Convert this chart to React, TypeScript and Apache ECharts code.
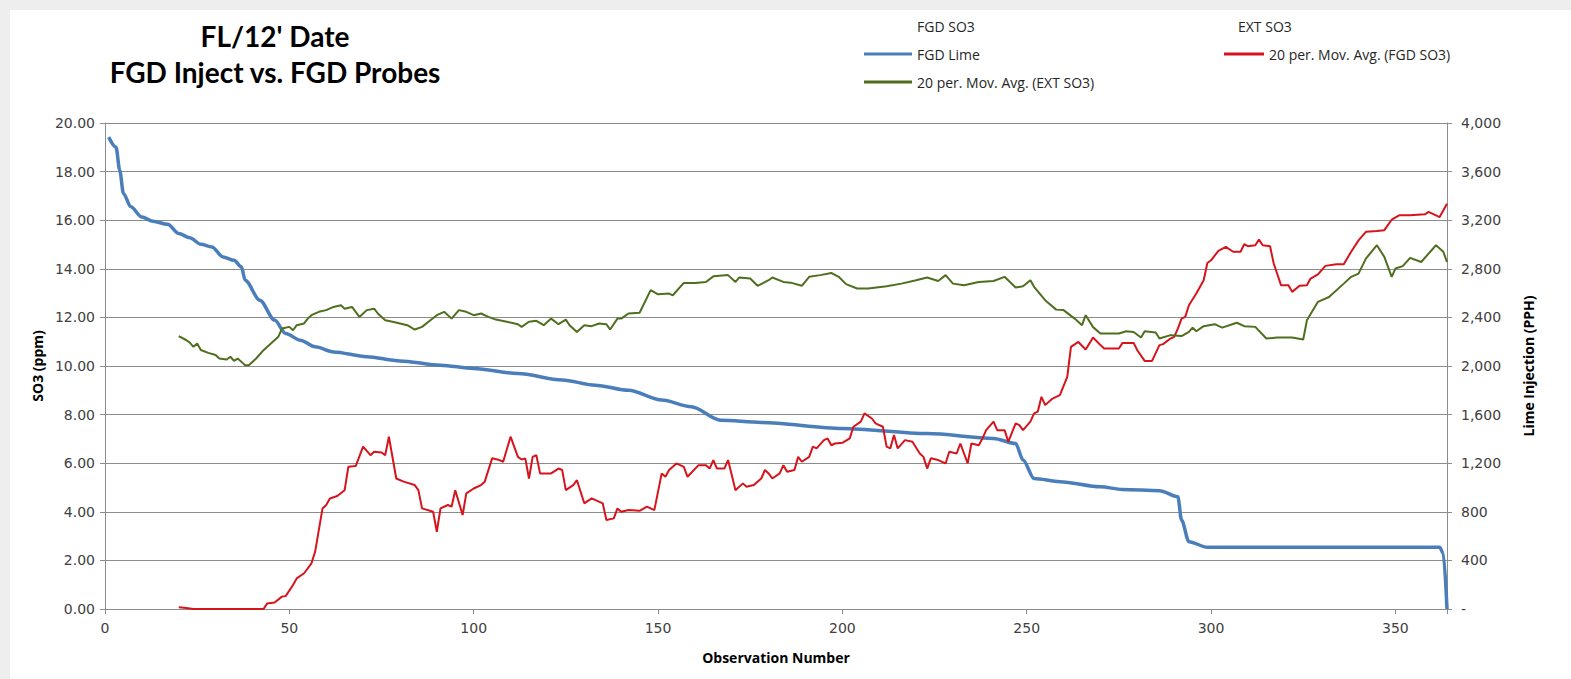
import React, { useEffect, useRef } from "react";
import * as echarts from "echarts";

const titleLines = ["FL/12' Date", "FGD Inject vs. FGD Probes"];
const xTicks = [0, 50, 100, 150, 200, 250, 300, 350];

const limeObs = [1, 3, 4, 5, 7, 10, 13, 17, 20, 23, 26, 29, 32, 35, 37, 38, 42, 46, 49, 53, 57, 62, 71, 80, 91, 100, 112, 124, 133, 142, 151, 159, 167, 178, 200, 223, 241, 247, 249, 252, 259, 270, 276, 286, 291, 292, 294, 299, 362, 363, 364];
const limePPH = [3884, 3800, 3610, 3420, 3310, 3226, 3192, 3166, 3090, 3056, 3002, 2980, 2898, 2870, 2816, 2706, 2542, 2378, 2268, 2212, 2158, 2116, 2076, 2042, 2006, 1980, 1938, 1884, 1842, 1800, 1720, 1664, 1554, 1536, 1486, 1444, 1404, 1362, 1226, 1074, 1048, 1006, 984, 974, 924, 732, 554, 508, 508, 458, 0];

const fgdAvgObs = [20, 22, 24, 43, 44, 46, 48, 49, 51, 52, 54, 56, 57, 59, 60, 61, 63, 65, 66, 68, 70, 72, 73, 75, 76, 77, 79, 81, 84, 85, 86, 89, 90, 91, 93, 94, 95, 97, 98, 100, 102, 103, 105, 107, 108, 110, 112, 113, 114, 115, 116, 117, 118, 121, 123, 124, 125, 127, 128, 130, 132, 135, 136, 138, 139, 140, 142, 145, 147, 149, 151, 152, 153, 155, 157, 158, 161, 163, 164, 165, 166, 168, 169, 170, 171, 173, 174, 176, 178, 179, 180, 181, 183, 184, 185, 187, 188, 189, 191, 192, 193, 195, 196, 197, 198, 200, 202, 203, 205, 206, 208, 209, 211, 212, 213, 214, 215, 217, 219, 221, 222, 223, 224, 226, 228, 229, 231, 232, 233, 234, 235, 237, 238, 239, 241, 242, 244, 245, 247, 248, 249, 251, 252, 253, 254, 255, 257, 259, 261, 262, 264, 266, 268, 270, 271, 275, 276, 279, 280, 282, 284, 286, 287, 289, 290, 291, 292, 293, 294, 296, 298, 299, 300, 302, 304, 306, 308, 309, 310, 312, 313, 314, 316, 317, 319, 321, 322, 324, 326, 327, 329, 331, 334, 336, 338, 340, 342, 345, 347, 349, 351, 354, 358, 359, 362, 364];
const fgdAvgSO3 = [0.07, 0.04, 0, 0, 0.23, 0.27, 0.51, 0.53, 0.99, 1.26, 1.47, 1.88, 2.36, 4.14, 4.28, 4.55, 4.65, 4.89, 5.85, 5.88, 6.68, 6.33, 6.47, 6.44, 6.33, 7.09, 5.37, 5.24, 5.1, 4.89, 4.14, 4.0, 3.18, 4.14, 4.28, 4.21, 4.89, 3.87, 4.76, 4.96, 5.1, 5.24, 6.2, 6.13, 6.06, 7.09, 6.26, 6.15, 6.2, 5.37, 6.26, 6.33, 5.58, 5.58, 5.78, 5.72, 4.89, 5.1, 5.3, 4.35, 4.55, 4.35, 3.66, 3.73, 4.14, 4.0, 4.07, 4.04, 4.21, 4.07, 5.58, 5.44, 5.72, 5.99, 5.85, 5.44, 5.92, 5.92, 5.78, 6.13, 5.78, 5.78, 6.13, 5.51, 4.89, 5.17, 5.03, 5.1, 5.37, 5.72, 5.58, 5.37, 5.58, 5.92, 5.65, 5.72, 6.26, 6.06, 6.26, 6.68, 6.61, 6.95, 7.02, 6.74, 6.81, 6.84, 7.02, 7.5, 7.71, 8.05, 7.84, 7.64, 7.5, 6.68, 6.61, 7.16, 6.61, 6.95, 6.88, 6.4, 6.26, 5.78, 6.2, 6.13, 5.99, 6.47, 6.4, 6.81, 6.4, 5.99, 6.81, 6.74, 7.02, 7.36, 7.71, 7.36, 7.36, 6.88, 7.64, 7.57, 7.36, 7.71, 8.05, 8.12, 8.73, 8.39, 8.66, 8.8, 9.55, 10.79, 10.99, 10.68, 11.17, 10.86, 10.72, 10.72, 10.95, 10.95, 10.65, 10.21, 10.21, 10.86, 10.9, 11.13, 11.2, 11.54, 11.95, 12.02, 12.5, 12.98, 13.53, 14.24, 14.35, 14.74, 14.9, 14.7, 14.7, 15.01, 14.93, 14.97, 15.2, 14.97, 14.93, 14.22, 13.32, 13.32, 13.05, 13.3, 13.32, 13.6, 13.77, 14.12, 14.19, 14.19, 14.7, 15.17, 15.52, 15.56, 15.59, 16.02, 16.2, 16.2, 16.24, 16.34, 16.13, 16.68];

const extAvgObs = [20, 22, 23, 24, 25, 26, 28, 30, 31, 33, 34, 35, 36, 37, 38, 39, 41, 43, 45, 47, 48, 50, 51, 52, 54, 55, 56, 58, 60, 62, 64, 65, 67, 69, 71, 73, 74, 76, 78, 80, 82, 84, 86, 88, 90, 92, 94, 96, 98, 100, 102, 104, 106, 109, 112, 113, 115, 117, 119, 121, 123, 125, 126, 128, 130, 132, 134, 136, 137, 139, 140, 142, 145, 148, 150, 153, 154, 157, 160, 163, 165, 169, 171, 172, 175, 177, 180, 181, 184, 186, 189, 191, 194, 197, 199, 201, 204, 207, 212, 216, 220, 223, 226, 228, 230, 233, 237, 241, 244, 247, 249, 251, 252, 255, 258, 260, 263, 265, 266, 268, 270, 275, 277, 279, 281, 282, 285, 286, 289, 292, 294, 295, 296, 298, 301, 303, 307, 309, 312, 315, 318, 322, 325, 326, 329, 332, 336, 338, 340, 342, 345, 347, 349, 350, 352, 354, 357, 361, 363, 364];
const extAvgSO3 = [11.23, 11.07, 10.96, 10.79, 10.93, 10.66, 10.54, 10.45, 10.31, 10.27, 10.38, 10.21, 10.31, 10.17, 10.03, 10.03, 10.31, 10.65, 10.93, 11.2, 11.54, 11.61, 11.47, 11.68, 11.75, 11.95, 12.09, 12.23, 12.3, 12.43, 12.5, 12.36, 12.43, 12.02, 12.3, 12.36, 12.16, 11.88, 11.82, 11.75, 11.68, 11.5, 11.61, 11.85, 12.09, 12.23, 11.95, 12.3, 12.23, 12.09, 12.16, 12.02, 11.91, 11.82, 11.72, 11.61, 11.82, 11.86, 11.68, 11.95, 11.72, 11.91, 11.68, 11.4, 11.68, 11.64, 11.75, 11.72, 11.5, 11.95, 11.95, 12.16, 12.19, 13.12, 12.95, 12.98, 12.91, 13.42, 13.42, 13.46, 13.69, 13.74, 13.46, 13.64, 13.6, 13.3, 13.53, 13.64, 13.46, 13.43, 13.3, 13.67, 13.74, 13.83, 13.67, 13.37, 13.19, 13.19, 13.28, 13.39, 13.53, 13.64, 13.5, 13.74, 13.39, 13.32, 13.46, 13.5, 13.67, 13.23, 13.28, 13.53, 13.26, 12.71, 12.32, 12.3, 11.95, 11.68, 12.09, 11.6, 11.34, 11.34, 11.43, 11.4, 11.17, 11.43, 11.38, 11.13, 11.27, 11.23, 11.4, 11.58, 11.43, 11.64, 11.72, 11.58, 11.78, 11.64, 11.61, 11.13, 11.17, 11.17, 11.09, 11.88, 12.64, 12.84, 13.39, 13.67, 13.8, 14.42, 14.97, 14.49, 13.67, 14.01, 14.11, 14.45, 14.28, 14.97, 14.7, 14.28];

const pair = (xs: number[], ys: number[]) => xs.map((x, i) => [x, ys[i]]);

const TITLE_FONT = "Lato, 'Open Sans', sans-serif";
const TEXT_FONT = "'Open Sans', 'Noto Sans', sans-serif";
const TICK_FONT = "'DejaVu Sans', Verdana, sans-serif";
const GRID = "#8c8c8c";
const LABEL = "#404040";

export default function App() {
  const ref = useRef<HTMLDivElement>(null);
  useEffect(() => {
    if (!ref.current) return;
    const chart = echarts.init(ref.current, undefined, { renderer: "svg" });
    const legendText = { fontSize: 14, color: "#262626", fontFamily: TEXT_FONT };
    const mkLegend = (name: string, left: number, top: number, w = 46) => ({
      data: [{ name, icon: "rect" }],
      left,
      top,
      itemWidth: w,
      itemHeight: 3,
      itemGap: 0,
      padding: 0,
      textStyle: legendText,
      selectedMode: false,
    });
    const axisName = { fontSize: 14, fontWeight: "bold", color: "#000", fontFamily: TEXT_FONT };
    const tickLabel = { fontSize: 14, color: LABEL, fontFamily: TICK_FONT };
    chart.setOption({
      animation: false,
      backgroundColor: "#ffffff",
      graphic: [
        { type: "rect", left: 0, top: 0, shape: { width: 1571, height: 10 }, style: { fill: "#eeeeee" }, silent: true },
        { type: "rect", left: 0, top: 0, shape: { width: 10, height: 679 }, style: { fill: "#eeeeee" }, silent: true },
      ],
      title: {
        text: titleLines.join("\n"),
        left: 270,
        top: 13,
        textAlign: "center",
        textStyle: { fontSize: 28, fontWeight: "bold", lineHeight: 36, color: "#000", fontFamily: TITLE_FONT },
      },
      legend: [
        mkLegend("FGD SO3", 866, 19),
        mkLegend("EXT SO3", 1187, 19),
        mkLegend("FGD Lime", 864, 47, 48),
        mkLegend("20 per. Mov. Avg. (FGD SO3)", 1224, 47, 40),
        mkLegend("20 per. Mov. Avg. (EXT SO3)", 864, 75, 48),
      ],
      grid: { left: 105, right: 124, top: 123, bottom: 70 },
      xAxis: {
        type: "value",
        min: 0,
        max: 364,
        interval: 50,
        name: "Observation Number",
        nameLocation: "middle",
        nameGap: 41,
        nameTextStyle: axisName,
        axisLine: { show: true, lineStyle: { color: GRID, width: 1 } },
        axisTick: { show: true, length: 5, lineStyle: { color: GRID } },
        splitLine: { show: false },
        axisLabel: {
          ...tickLabel,
          margin: 12,
          formatter: (v: number) => (xTicks.includes(v) ? String(v) : ""),
        },
      },
      yAxis: [
        {
          type: "value",
          min: 0,
          max: 20,
          interval: 2,
          position: "left",
          name: "SO3 (ppm)",
          nameLocation: "middle",
          nameGap: 60,
          nameTextStyle: axisName,
          axisLine: { show: true, lineStyle: { color: GRID, width: 1 } },
          axisTick: { show: true, length: 5, lineStyle: { color: GRID } },
          splitLine: { show: true, lineStyle: { color: GRID, width: 1 } },
          axisLabel: { ...tickLabel, margin: 10, formatter: (v: number) => v.toFixed(2) },
        },
        {
          type: "value",
          min: 0,
          max: 4000,
          interval: 400,
          position: "right",
          name: "Lime Injection (PPH)",
          nameLocation: "middle",
          nameGap: 74,
          nameTextStyle: axisName,
          axisLine: { show: true, lineStyle: { color: GRID, width: 1 } },
          axisTick: { show: true, length: 5, lineStyle: { color: GRID } },
          splitLine: { show: false },
          axisLabel: {
            ...tickLabel,
            margin: 14,
            formatter: (v: number) => (v === 0 ? "-" : v.toLocaleString("en-US")),
          },
        },
      ],
      series: [
        { name: "FGD SO3", type: "line", data: [], color: "rgba(0,0,0,0)", showSymbol: false },
        { name: "EXT SO3", type: "line", data: [], color: "rgba(0,0,0,0)", showSymbol: false },
        {
          name: "FGD Lime",
          type: "line",
          yAxisIndex: 1,
          data: pair(limeObs, limePPH),
          color: "#4A7EBB",
          showSymbol: false,
          smooth: 0.3,
          smoothMonotone: "x",
          lineStyle: { width: 3.5, color: "#4A7EBB" },
          z: 3,
        },
        {
          name: "20 per. Mov. Avg. (FGD SO3)",
          type: "line",
          yAxisIndex: 0,
          data: pair(fgdAvgObs, fgdAvgSO3),
          color: "#D6141C",
          showSymbol: false,
          lineStyle: { width: 2, color: "#D6141C" },
          z: 4,
        },
        {
          name: "20 per. Mov. Avg. (EXT SO3)",
          type: "line",
          yAxisIndex: 0,
          data: pair(extAvgObs, extAvgSO3),
          color: "#4F6F1E",
          showSymbol: false,
          lineStyle: { width: 2, color: "#4F6F1E" },
          z: 4,
        },
      ],
    });
    return () => chart.dispose();
  }, []);
  return <div ref={ref} style={{ position: "absolute", left: 0, top: 0, width: 1571, height: 679 }} />;
}
